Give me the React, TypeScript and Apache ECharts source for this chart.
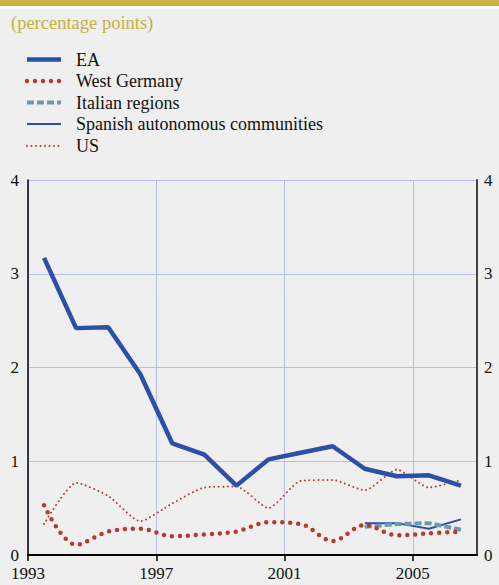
import React, { useEffect, useRef } from "react";
import * as echarts from "echarts";

const years = [1993, 1994, 1995, 1996, 1997, 1998, 1999, 2000, 2001, 2002, 2003, 2004, 2005, 2006];
const eaValues = [3.17, 2.42, 2.43, 1.93, 1.19, 1.07, 0.74, 1.02, 1.09, 1.16, 0.92, 0.84, 0.85, 0.74];
const westGermanyValues = [0.53, 0.11, 0.25, 0.28, 0.2, 0.22, 0.25, 0.35, 0.33, 0.15, 0.32, 0.21, 0.23, 0.25];
const usValues = [0.33, 0.77, 0.63, 0.36, 0.55, 0.72, 0.73, 0.5, 0.79, 0.8, 0.69, 0.91, 0.72, 0.8];
const regionYears = [2003, 2004, 2005, 2006];
const italianValues = [0.3, 0.33, 0.34, 0.27];
const spanishValues = [0.34, 0.34, 0.28, 0.38];
const xTickYears = [1993, 1997, 2001, 2005];
const yTicks = [0, 1, 2, 3, 4];

const seriesNames = ["EA", "West Germany", "Italian regions", "Spanish autonomous communities", "US"];

const BLUE = "#2c4fa7";
const RED = "#b83a2e";
const TEAL = "#6b9aab";
const GRID = "#b6bde9";
const FONT = "'Liberation Serif', 'DejaVu Serif', 'Times New Roman', serif";

const lineStyles: any[] = [
  { color: BLUE, width: 4.5, type: "solid", cap: "butt" },
  { color: RED, width: 4.5, type: [0, 8], cap: "round" },
  { color: TEAL, width: 4, type: [7, 3], cap: "butt" },
  { color: BLUE, width: 2, type: "solid", cap: "butt" },
  { color: RED, width: 2, type: [0, 4.5], cap: "round" },
];

const mid = (y: number) => y + 0.5;

export default function App() {
  const ref = useRef<HTMLDivElement>(null);
  useEffect(() => {
    const chart = echarts.init(ref.current!, undefined, { renderer: "svg" });
    const seriesData = [
      years.map((y, i) => [mid(y), eaValues[i]]),
      years.map((y, i) => [mid(y), westGermanyValues[i]]),
      regionYears.map((y, i) => [mid(y), italianValues[i]]),
      regionYears.map((y, i) => [mid(y), spanishValues[i]]),
      years.map((y, i) => [mid(y), usValues[i]]),
    ];
    const smooths = [false, 0.35, false, false, 0.2];
    const legendRowsY = [59.5, 81, 102.5, 124, 146];
    const legendGraphics: any[] = [];
    seriesNames.forEach((name, i) => {
      const ls = lineStyles[i];
      legendGraphics.push({
        type: "line",
        shape: { x1: 27, y1: legendRowsY[i], x2: 61, y2: legendRowsY[i] },
        style: {
          stroke: ls.color,
          lineWidth: ls.width,
          lineDash: Array.isArray(ls.type) ? ls.type : null,
          lineCap: ls.cap,
        },
      });
      legendGraphics.push({
        type: "text",
        x: 76,
        y: legendRowsY[i],
        style: {
          text: name,
          fill: "#111",
          fontFamily: FONT,
          fontSize: 18,
          verticalAlign: "middle",
        },
      });
    });

    chart.setOption({
      animation: false,
      backgroundColor: "#efefef",
      grid: { left: 28, right: 22, top: 180, bottom: 30, containLabel: false },
      graphic: [
        { type: "rect", shape: { x: 0, y: 0, width: 499, height: 6 }, style: { fill: "#c9b446" } },
        { type: "rect", shape: { x: 0, y: 6, width: 499, height: 2.5 }, style: { fill: "#ffffff" } },
        {
          type: "text",
          x: 11,
          y: 22.5,
          style: {
            text: "(percentage points)",
            fill: "#c4b13a",
            fontFamily: FONT,
            fontSize: 18.5,
            verticalAlign: "middle",
          },
        },
        ...legendGraphics,
      ],
      xAxis: {
        type: "value",
        min: 1993,
        max: 2007,
        interval: 4,
        axisLine: { show: true, onZero: false, lineStyle: { color: "#000", width: 2 } },
        axisTick: { show: true, length: 6, lineStyle: { color: "#000", width: 1.5 } },
        axisLabel: {
          show: true,
          color: "#111",
          fontFamily: FONT,
          fontSize: 17,
          margin: 10,
          showMaxLabel: false,
          formatter: (v: number) => (xTickYears.includes(v) ? String(v) : ""),
        },
        splitLine: { show: true, lineStyle: { color: GRID, width: 1 } },
      },
      yAxis: [
        {
          type: "value",
          min: 0,
          max: 4,
          interval: 1,
          position: "left",
          axisLine: { show: true, lineStyle: { color: "#000", width: 1.5 } },
          axisTick: { show: false },
          axisLabel: {
            color: "#111",
            fontFamily: FONT,
            fontSize: 17,
            margin: 9,
            formatter: (v: number) => (yTicks.includes(v) ? String(v) : ""),
          },
          splitLine: { show: true, lineStyle: { color: GRID, width: 1 } },
        },
        {
          type: "value",
          min: 0,
          max: 4,
          interval: 1,
          position: "right",
          axisLine: { show: true, lineStyle: { color: "#444", width: 2 } },
          axisTick: { show: false },
          axisLabel: {
            color: "#111",
            fontFamily: FONT,
            fontSize: 17,
            margin: 7,
            formatter: (v: number) => (yTicks.includes(v) ? String(v) : ""),
          },
          splitLine: { show: false },
        },
      ],
      series: seriesNames.map((name, i) => ({
        name,
        type: "line",
        yAxisIndex: 0,
        data: seriesData[i],
        showSymbol: false,
        symbol: "none",
        smooth: smooths[i],
        lineStyle: lineStyles[i],
        z: 10 - i,
      })),
    });
    return () => chart.dispose();
  }, []);
  return (
    <div
      ref={ref}
      style={{ position: "absolute", left: 0, top: 0, width: 499, height: 585 }}
    />
  );
}
